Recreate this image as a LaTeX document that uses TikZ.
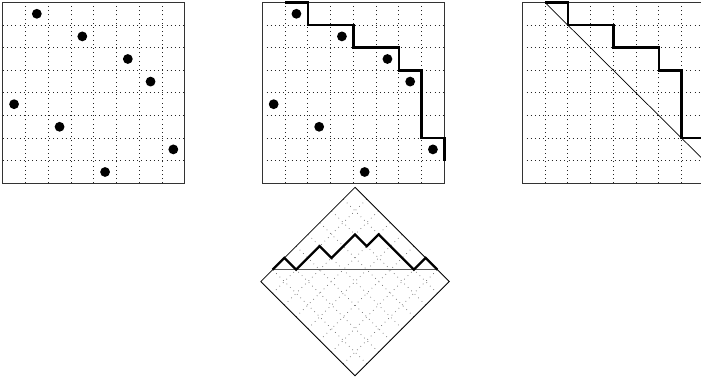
\documentclass[tikz,border=0pt]{standalone}
\begin{document}
\begin{tikzpicture}[x=1pt,y=1pt,
  gridline/.style={black!85,line width=0.9pt,dash pattern=on 0.9pt off 3.3pt},
  dgridline/.style={black!60,line width=0.7pt,dash pattern=on 0.7pt off 4.2pt},
  frame/.style={black!80,line width=0.9pt},
  stair/.style={black,line width=2.5pt,line join=miter,line cap=butt},
  diag/.style={black,line width=0.7pt},
  pt/.style={circle,fill=black,inner sep=0pt,minimum size=9.8pt}]
\useasboundingbox (0,0) rectangle (701,379);
\clip (0,0) rectangle (701,379);
% square 1
\begin{scope}[shift={(2.7pt,195.7pt)},x=22.75pt,y=22.6pt]
  \foreach \i in {1,...,7} {\draw[gridline] (\i,0) -- (\i,8); \draw[gridline] (0,\i) -- (8,\i);}
  \draw[frame] (0,0) rectangle (8,8);
  \foreach \xx/\yy [count=\k] in {1.5/7.5,3.5/6.5,5.5/5.5,6.5/4.5,0.5/3.5,2.5/2.5,7.5/1.5,4.5/0.5}
    \node[pt] (a\k) at (\xx,\yy) {};
\end{scope}
% square 2
\begin{scope}[shift={(262.3pt,195.7pt)},x=22.75pt,y=22.6pt]
  \foreach \i in {1,...,7} {\draw[gridline] (\i,0) -- (\i,8); \draw[gridline] (0,\i) -- (8,\i);}
  \draw[frame] (0,0) rectangle (8,8);
  \foreach \xx/\yy [count=\k] in {1.5/7.5,3.5/6.5,5.5/5.5,6.5/4.5,0.5/3.5,2.5/2.5,7.5/1.5,4.5/0.5}
    \node[pt] (b\k) at (\xx,\yy) {};
  \draw[stair] (1,8) -- (2,8) -- (2,7) -- (4,7) -- (4,6) -- (6,6) -- (6,5) -- (7,5) -- (7,2) -- (8,2) -- (8,1);
\end{scope}
% square 3
\begin{scope}[shift={(522.3pt,195.7pt)},x=22.75pt,y=22.6pt]
  \foreach \i in {1,...,7} {\draw[gridline] (\i,0) -- (\i,8); \draw[gridline] (0,\i) -- (8,\i);}
  \draw[frame] (0,0) rectangle (8,8);
  \coordinate (c1) at (1,8);
  \coordinate (c2) at (8,1);
  \draw[diag] (c1) -- (c2);
  \draw[stair] (1,8) -- (2,8) -- (2,7) -- (4,7) -- (4,6) -- (6,6) -- (6,5) -- (7,5) -- (7,2) -- (8,2) -- (8,1);
\end{scope}
% diamond
\begin{scope}[shift={(355pt,3.3pt)},rotate=45,x=16.65pt,y=16.65pt]
  \foreach \i in {1,...,7} {\draw[dgridline] (\i,0) -- (\i,8); \draw[dgridline] (0,\i) -- (8,\i);}
  \draw[frame,black,line width=0.8pt] (0,0) rectangle (8,8);
  \coordinate (d1) at (1,8);
  \coordinate (d2) at (8,1);
  \draw[black!65,line width=1.4pt] (d1) -- (d2);
  \draw[stair,line width=2.3pt] (1,8) -- (2,8) -- (2,7) -- (4,7) -- (4,6) -- (6,6) -- (6,5) -- (7,5) -- (7,2) -- (8,2) -- (8,1);
\end{scope}
\end{tikzpicture}
\end{document}
